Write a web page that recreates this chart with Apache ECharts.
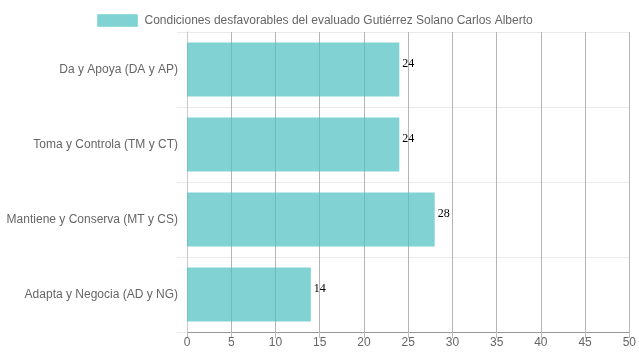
<!DOCTYPE html>
<html>
<head>
<meta charset="utf-8">
<script src="https://cdn.jsdelivr.net/npm/echarts@6/dist/echarts.min.js"></script>
<style>
html,body{margin:0;padding:0;background:#fff;}
#c{width:639px;height:360px;}
</style>
</head>
<body>
<div id="c"></div>
<script>
const categories = ["Da y Apoya (DA y AP)", "Toma y Controla (TM y CT)", "Mantiene y Conserva (MT y CS)", "Adapta y Negocia (AD y NG)"];
const values = [24, 24, 28, 14];
const seriesName = "Condiciones desfavorables del evaluado Gutiérrez Solano Carlos Alberto";

const chart = echarts.init(document.getElementById('c'), null, {renderer: 'canvas'});
chart.setOption({
  animation: false,
  textStyle: {fontFamily: '"Liberation Sans", Arial, sans-serif'},
  legend: {
    top: 9,
    left: 92,
    itemWidth: 40,
    itemHeight: 12,
    itemGap: 10,
    textStyle: {color: '#666', fontSize: 12, fontFamily: '"Liberation Sans", Arial, sans-serif', padding: [0, 0, 0, 2]},
    data: [{name: seriesName, icon: 'rect', itemStyle: {color: 'rgba(75,192,192,0.7)', borderColor: 'rgba(75,192,192,0.35)', borderWidth: 1}}]
  },
  grid: {left: 187, right: 9, top: 32, bottom: 28, containLabel: false},
  xAxis: {
    type: 'value', min: 0, max: 50, interval: 5,
    axisLine: {show: true, lineStyle: {color: '#999', width: 1}},
    axisTick: {show: true, length: 6, lineStyle: {color: '#bbb'}},
    axisLabel: {color: '#666', fontSize: 12, margin: 5},
    splitLine: {show: true, lineStyle: {color: '#b5b5b5', width: 1}}
  },
  yAxis: {
    type: 'category', data: categories, inverse: true,
    axisLine: {show: true, lineStyle: {color: '#c8c8c8'}},
    axisTick: {show: true, length: 10, lineStyle: {color: '#ebebeb'}},
    axisLabel: {color: '#666', fontSize: 12, margin: 9},
    splitLine: {show: true, lineStyle: {color: '#ebebeb', width: 1}}
  },
  series: [{
    name: seriesName,
    type: 'bar',
    data: values,
    barWidth: '72%',
    itemStyle: {color: 'rgba(75,192,192,0.7)'},
    label: {show: true, position: 'right', distance: 3, offset: [0, -6], color: '#000', fontSize: 12, fontFamily: '"Liberation Serif", "Times New Roman", serif'}
  }]
});
</script>
</body>
</html>
